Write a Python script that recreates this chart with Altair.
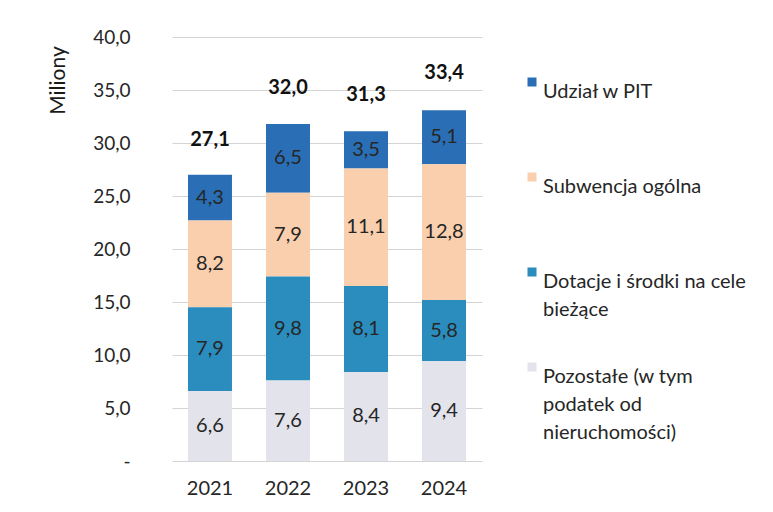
import altair as alt
import pandas as pd

years = ["2021", "2022", "2023", "2024"]
categories = [
    "Udział w PIT",
    "Subwencja ogólna",
    "Dotacje i środki na cele bieżące",
    "Pozostałe (w tym podatek od nieruchomości)",
]
legend_lines = [
    ["Udział w PIT"],
    ["Subwencja ogólna"],
    ["Dotacje i środki na cele", "bieżące"],
    ["Pozostałe (w tym", "podatek od", "nieruchomości)"],
]
pit = [4.3, 6.5, 3.5, 5.1]
subwencja = [8.2, 7.9, 11.1, 12.8]
dotacje = [7.9, 9.8, 8.1, 5.8]
pozostale = [6.6, 7.6, 8.4, 9.4]
totals = [27.1, 32.0, 31.3, 33.4]
colors = ["#2A6FB5", "#F9CFAE", "#2B8DBE", "#E3E3EC"]
stack_order = [3, 2, 1, 0]  # PIT on top, Pozostałe at bottom

series = [pit, subwencja, dotacje, pozostale]
rows = []
for ci, cat in enumerate(categories):
    for yi, yr in enumerate(years):
        rows.append({"year": yr, "cat": cat, "value": series[ci][yi], "ord": stack_order[ci]})
df = pd.DataFrame(rows)
tot_df = pd.DataFrame({"year": years, "total": totals})

FONT = "Lato"
TXT = "#262626"

label_expr = "{" + ",".join(
    "'" + c + "':[" + ",".join("'" + l + "'" for l in ls) + "]" for c, ls in zip(categories, legend_lines)
) + "}[datum.label]"

x_enc = alt.X(
    "year:N",
    title=None,
    scale=alt.Scale(paddingInner=0.436, paddingOuter=0.205),
    axis=alt.Axis(labelAngle=0, labelPadding=17, ticks=False, domain=False, grid=False,
                  labelFontSize=20, labelColor=TXT, labelFont=FONT),
)

y_scale = alt.Scale(domain=[0, 40], nice=False)

bars = alt.Chart(df).mark_bar().encode(
    x=x_enc,
    y=alt.Y(
        "value:Q",
        stack="zero",
        scale=y_scale,
        title="Miliony",
        axis=alt.Axis(
            values=[0, 5, 10, 15, 20, 25, 30, 35, 40],
            labelExpr="datum.value == 0 ? '-' : replace(format(datum.value, '.1f'), '.', ',')",
            ticks=False, domain=False, grid=True, gridColor="#d4d4d4", gridWidth=1,
            labelPadding=42, labelFontSize=19, labelColor=TXT, labelFont=FONT,
            titleFont=FONT, titleFontSize=21, titleFontWeight="normal", titleColor="#1a1a1a",
            titleX=-114, titleY=43, titleAngle=270, titleAlign="center", titleBaseline="middle",
        ),
    ),
    color=alt.Color(
        "cat:N",
        scale=alt.Scale(domain=categories, range=colors),
        legend=alt.Legend(
            title=None, orient="none", legendX=350, legendY=35,
            symbolType="square", symbolSize=81, symbolStrokeWidth=0,
            labelFont=FONT, labelFontSize=20, labelColor=TXT,
            labelExpr=label_expr, labelBaseline="top", labelOffset=1, labelLimit=300,
            gridAlign="all", rowPadding=9, padding=0,
        ),
    ),
    order=alt.Order("ord:Q"),
)

seg_labels = alt.Chart(df).transform_stack(
    stack="value", groupby=["year"], as_=["v0", "v1"], sort=[alt.SortField("ord")]
).transform_calculate(
    mid="(datum.v0 + datum.v1) / 2",
    txt="replace(format(datum.value, '.1f'), '.', ',')",
).mark_text(font=FONT, fontSize=20, color=TXT, baseline="middle").encode(
    x=alt.X("year:N"),
    y=alt.Y("mid:Q", scale=y_scale),
    text="txt:N",
)

tot_labels = alt.Chart(tot_df).transform_calculate(
    txt="replace(format(datum.total, '.1f'), '.', ',')"
).mark_text(font=FONT, fontSize=20, fontWeight="bold", color="#111111", baseline="middle", dy=-34).encode(
    x=alt.X("year:N"),
    y=alt.Y("total:Q", scale=y_scale),
    text="txt:N",
)

chart = alt.layer(bars, seg_labels, tot_labels).properties(
    width=310,
    height=424,
    autosize=alt.AutoSizeParams(type="none"),
    padding={"left": 164, "top": 29, "right": 283, "bottom": 43},
).configure(
    background="white",
    view=alt.ViewConfig(stroke=None),
    style={"guide-label": {"lineHeight": 28}},
)

chart.save("out.html", embed_options={"renderer": "svg", "actions": False})
